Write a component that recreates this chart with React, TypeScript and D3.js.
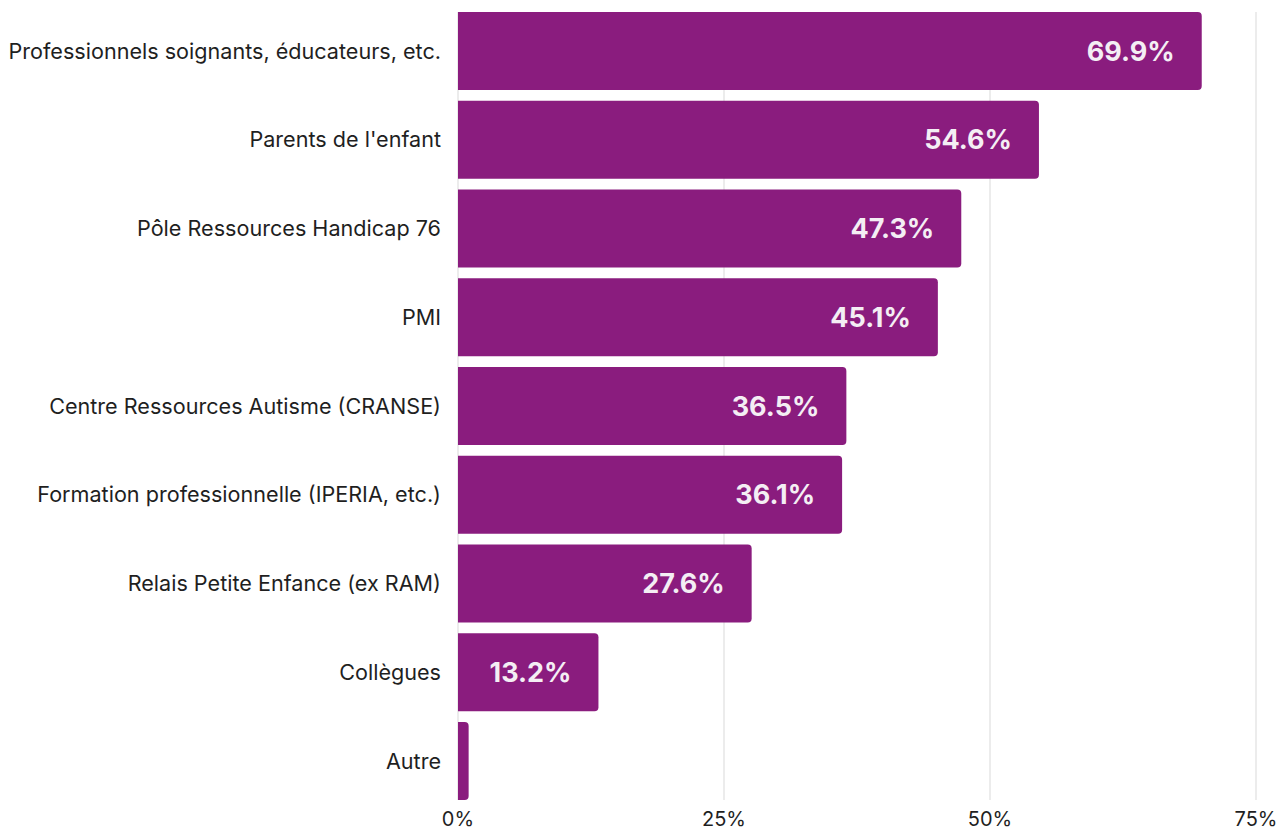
import React from "react";
import * as d3 from "d3";

const categories = [
  "Professionnels soignants, éducateurs, etc.",
  "Parents de l'enfant",
  "Pôle Ressources Handicap 76",
  "PMI",
  "Centre Ressources Autisme (CRANSE)",
  "Formation professionnelle (IPERIA, etc.)",
  "Relais Petite Enfance (ex RAM)",
  "Collègues",
  "Autre",
];
const values = [69.9, 54.6, 47.3, 45.1, 36.5, 36.1, 27.6, 13.2, 1.0];
const ticks = [0, 25, 50, 75];

const W = 1280;
const H = 832;
const x0 = 458;
const x1 = 1256;
const barColor = "#8A1C7E";
const font = "Inter, 'Noto Sans', sans-serif";

function barPath(x: number, y: number, w: number, h: number, r: number) {
  const rr = Math.min(r, w / 2, h / 2);
  return `M${x},${y}H${x + w - rr}Q${x + w},${y} ${x + w},${y + rr}V${y + h - rr}Q${x + w},${y + h} ${x + w - rr},${y + h}H${x}Z`;
}

export default function App() {
  const x = d3.scaleLinear().domain([0, 75]).range([x0, x1]);
  const y = d3
    .scaleBand<string>()
    .domain(categories)
    .range([6.6, 805.4])
    .paddingInner(0.12)
    .paddingOuter(0.06);

  return (
    <svg
      width={W}
      height={H}
      style={{ position: "absolute", left: 0, top: 0, display: "block" }}
    >
      <rect width={W} height={H} fill="#fff" />
      {ticks.map((t) => (
        <line
          key={"g" + t}
          x1={x(t)}
          x2={x(t)}
          y1={12}
          y2={800}
          stroke="#d9d9d9"
          strokeWidth={1}
        />
      ))}
      {categories.map((c, i) => {
        const by = y(c)!;
        const bh = y.bandwidth();
        const bw = x(values[i]) - x0;
        return (
          <g key={c}>
            <path d={barPath(x0, by, bw, bh, 4)} fill={barColor} />
            <text
              x={441}
              y={by + bh / 2}
              dy="0.35em"
              textAnchor="end"
              fontFamily={font}
              fontSize={21.6}
              fill="#1f1f1f"
            >
              {c}
            </text>
            {values[i] > 5 && (
              <text
                x={x(values[i]) - 27}
                y={by + bh / 2}
                dy="0.36em"
                textAnchor="end"
                fontFamily={font}
                fontSize={27}
                fontWeight={700}
                fill="#f4eef4"
              >
                {values[i].toFixed(1)}%
              </text>
            )}
          </g>
        );
      })}
      {ticks.map((t) => (
        <text
          key={"t" + t}
          x={x(t)}
          y={826}
          textAnchor="middle"
          fontFamily={font}
          fontSize={20}
          fill="#1f1f1f"
        >
          {t}%
        </text>
      ))}
    </svg>
  );
}
